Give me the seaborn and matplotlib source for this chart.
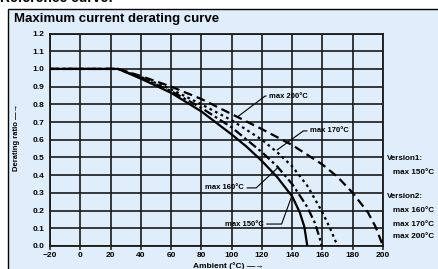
import numpy as np
import pandas as pd
import seaborn as sns
import matplotlib.pyplot as plt
from matplotlib.patches import Rectangle

# ambient temperature (°C) and derating ratio for each curve
t_150 = [-20, 25, 40, 60, 80, 100, 110, 120, 130, 140, 145, 148, 150]
r_150 = [1.0, 1.0, 0.945, 0.865, 0.76, 0.63, 0.56, 0.48, 0.39, 0.28, 0.19, 0.11, 0.0]

t_160 = [-20, 25, 40, 60, 80, 100, 120, 130, 140, 150, 155, 158, 159.5]
r_160 = [1.0, 1.0, 0.95, 0.875, 0.78, 0.67, 0.53, 0.45, 0.35, 0.22, 0.13, 0.05, 0.0]

t_170 = [-20, 25, 40, 60, 80, 100, 120, 130, 140, 150, 160, 165, 170]
r_170 = [1.0, 1.0, 0.955, 0.885, 0.8, 0.71, 0.6, 0.53, 0.45, 0.34, 0.19, 0.1, 0.0]

t_200 = [-20, 25, 40, 60, 80, 100, 120, 140, 160, 170, 180, 190, 195, 200]
r_200 = [1.0, 1.0, 0.96, 0.9, 0.83, 0.745, 0.66, 0.57, 0.46, 0.39, 0.3, 0.19, 0.11, 0.0]

x_ticks = list(range(-20, 201, 20))
y_ticks = [round(0.1 * i, 1) for i in range(13)]

curves = pd.concat([
    pd.DataFrame({"ambient": t_150, "ratio": r_150, "curve": "150"}),
    pd.DataFrame({"ambient": t_160, "ratio": r_160, "curve": "160"}),
    pd.DataFrame({"ambient": t_170, "ratio": r_170, "curve": "170"}),
    pd.DataFrame({"ambient": t_200, "ratio": r_200, "curve": "200"}),
], ignore_index=True)

sns.set_theme(style="ticks")
plt.rcParams['font.family'] = ['Liberation Sans', 'DejaVu Sans']
plt.rcParams['font.weight'] = 'bold'
plt.rcParams['text.color'] = 'black'
plt.rcParams['xtick.color'] = 'black'
plt.rcParams['ytick.color'] = 'black'

bg = '#dfeefa'
W, H = 438, 269
fig = plt.figure(figsize=(W / 100, H / 100), dpi=100)
fig.patch.set_facecolor('white')
box = Rectangle((8 / W, -0.05), 1.0, 1 - 8.5 / H + 0.05, transform=fig.transFigure,
                facecolor=bg, edgecolor='black', lw=1.0, zorder=-5)
fig.add_artist(box)

ax = fig.add_axes([50 / W, 1 - 246 / H, 333 / W, (246 - 33.5) / H])
ax.set_zorder(2)
ax.set_facecolor(bg)

sns.lineplot(data=curves, x="ambient", y="ratio", style="curve", color='black', lw=1.6,
             dashes={"150": "", "160": (4, 1.5, 1.2, 1.5), "170": (1.2, 1.6), "200": (4, 2.2)},
             sort=False, estimator=None, legend=False, ax=ax, zorder=3)

ax.set_xlim(-20, 200)
ax.set_ylim(0, 1.2)
ax.set_xticks(x_ticks)
ax.set_yticks(y_ticks)
ax.set_xticklabels([f'{v}' if v >= 0 else f'\u2212{-v}' for v in x_ticks], fontsize=6, fontweight='bold')
ax.set_yticklabels([f'{v:.1f}' for v in y_ticks], fontsize=6, fontweight='bold')
ax.grid(True, color='#1a1a1a', lw=1.2)
for s in ax.spines.values():
    s.set_color('#1a1a1a')
    s.set_linewidth(1.3)
ax.tick_params(axis='x', length=3, width=1.1, color='#1a1a1a', pad=1.5)
ax.tick_params(axis='y', length=0, pad=4)
ax.set_xlabel('')
ax.set_ylabel('')

fig.text(17 / W, 1 - 137 / H, 'Derating ratio \u2014\u2192', rotation=90, ha='center', va='center',
         fontsize=5.5, fontweight='bold')
fig.text(228 / W, 1 - 262.5 / H, 'Ambient (°C) \u2014\u2192', ha='center', va='top',
         fontsize=6, fontweight='bold')
fig.text(14 / W, 1 - 19 / H, 'Maximum current derating curve', ha='left', va='center',
         fontsize=9.5, fontweight='bold')
fig.text(0, 1 - 5 / H, 'Reference curve:', ha='left', va='bottom', fontsize=10, fontweight='bold')

lead = dict(arrowstyle='-', color='black', lw=0.8, shrinkA=0, shrinkB=0)
ax.annotate('max 200°C', xy=(104, 0.73), xytext=(125, 0.847), ha='left', va='center', fontsize=5.5,
            arrowprops=dict(lead, connectionstyle='angle,angleA=0,angleB=37'))
ax.annotate('max 170°C', xy=(130, 0.542), xytext=(152, 0.65), ha='left', va='center', fontsize=5.5,
            arrowprops=dict(lead, connectionstyle='angle,angleA=0,angleB=36'))
ax.annotate('max 160°C', xy=(131, 0.446), xytext=(108, 0.328), ha='right', va='center', fontsize=5.5,
            arrowprops=dict(lead, connectionstyle='angle,angleA=0,angleB=43'))
ax.annotate('max 150°C', xy=(140, 0.288), xytext=(121, 0.124), ha='right', va='center', fontsize=5.5,
            arrowprops=dict(lead, connectionstyle='angle,angleA=0,angleB=70'))

legend_lines = [('Version1:', 387, 159), ('max 150°C', 393, 172), ('Version2:', 387, 196),
                ('max 160°C', 393, 211), ('max 170°C', 393, 224), ('max 200°C', 393, 236)]
for txt, px, py in legend_lines:
    fig.text(px / W, 1 - py / H, txt, ha='left', va='center', fontsize=5.8, fontweight='bold')

fig.savefig('out.png', dpi=100, facecolor=fig.get_facecolor())
